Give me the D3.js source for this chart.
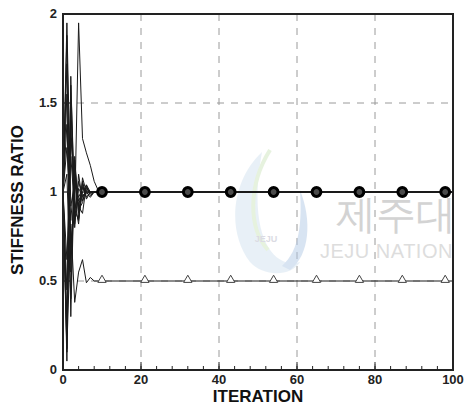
<!DOCTYPE html>
<html>
<head>
<meta charset="utf-8">
<script src="https://cdn.jsdelivr.net/npm/d3@7"></script>
<style>
  html, body { margin: 0; padding: 0; background: #fff; }
  svg { display: block; }
  text { font-family: "Liberation Sans", Arial, sans-serif; }
</style>
</head>
<body>
<svg id="chart" width="464" height="408"></svg>
<script>
// Iteration at which each value is recorded (last entry = end of run)
const iterations = [0, 1, 2, 3, 4, 5, 6, 7, 8, 9, 10, 11, 12, 100];

// Stiffness ratio histories converging to 1.0
const s01 = [1.00, 1.95, 0.92, 1.05, 0.97, 1.02, 1.00, 1.00, 1.00, 1.00, 1.00, 1.00, 1.00, 1.00];
const s02 = [1.00, 0.10, 1.50, 0.88, 1.06, 0.97, 1.01, 1.00, 1.00, 1.00, 1.00, 1.00, 1.00, 1.00];
const s03 = [1.00, 1.72, 0.55, 1.15, 0.92, 1.03, 0.99, 1.00, 1.00, 1.00, 1.00, 1.00, 1.00, 1.00];
const s04 = [1.00, 0.30, 1.40, 0.80, 1.10, 0.95, 1.02, 1.00, 1.00, 1.00, 1.00, 1.00, 1.00, 1.00];
const s05 = [1.00, 1.38, 0.72, 0.88, 1.95, 1.30, 1.22, 1.15, 1.06, 1.01, 1.00, 1.00, 1.00, 1.00];
const s06 = [1.00, 0.62, 1.20, 0.90, 0.84, 1.05, 0.96, 1.00, 1.00, 1.00, 1.00, 1.00, 1.00, 1.00];
const s07 = [1.00, 1.25, 0.84, 1.12, 0.90, 0.94, 1.03, 0.99, 1.00, 1.00, 1.00, 1.00, 1.00, 1.00];
const s08 = [1.00, 0.05, 1.65, 0.82, 1.02, 0.98, 1.00, 1.00, 1.00, 1.00, 1.00, 1.00, 1.00, 1.00];
const s09 = [1.00, 1.55, 0.30, 1.18, 0.88, 1.06, 0.97, 1.00, 1.00, 1.00, 1.00, 1.00, 1.00, 1.00];
const s10 = [1.00, 0.45, 1.60, 0.95, 0.82, 1.08, 1.00, 0.97, 1.00, 1.00, 1.00, 1.00, 1.00, 1.00];
const s11 = [1.00, 1.88, 0.65, 1.05, 0.92, 0.88, 1.04, 1.00, 1.00, 1.00, 1.00, 1.00, 1.00, 1.00];
const s12 = [1.00, 0.20, 1.30, 1.08, 0.95, 1.00, 1.00, 1.00, 1.00, 1.00, 1.00, 1.00, 1.00, 1.00];
const s13 = [1.00, 1.10, 0.40, 1.20, 0.85, 1.00, 1.04, 0.98, 1.00, 1.00, 1.00, 1.00, 1.00, 1.00];
// History converging to 0.5
const s14 = [1.00, 0.12, 0.82, 0.38, 0.55, 0.62, 0.49, 0.52, 0.50, 0.50, 0.50, 0.50, 0.50, 0.50];

const seriesList = [s01, s02, s03, s04, s05, s06, s07, s08, s09, s10, s11, s12, s13, s14];

// Symbol positions
const markerIterations = [10, 21, 32, 43, 54, 65, 76, 87, 98];
const circleValues   = [1, 1, 1, 1, 1, 1, 1, 1, 1];
const triangleValues = [0.5, 0.5, 0.5, 0.5, 0.5, 0.5, 0.5, 0.5, 0.5];

// Tick labels
const xTicks = [0, 20, 40, 60, 80, 100];
const xMinorTicks = d3.range(0, 101, 4);
const yTicks = [0, 0.5, 1, 1.5, 2];
const yTickLabels = ["0", "0.5", "1", "1.5", "2"];

const svg = d3.select("#chart");
const plotLeft = 63, plotRight = 453, plotTop = 14, plotBottom = 370;

const x = d3.scaleLinear().domain([0, 100]).range([plotLeft, plotRight]);
const y = d3.scaleLinear().domain([0, 2]).range([plotBottom, plotTop]);

// Grid
const grid = svg.append("g").attr("stroke", "#9a9a9a").attr("stroke-width", 1)
  .attr("stroke-dasharray", "7,7");
grid.selectAll("line.vx").data([20, 40, 60, 80]).join("line")
  .attr("x1", d => x(d)).attr("x2", d => x(d)).attr("y1", plotTop).attr("y2", plotBottom);
grid.selectAll("line.hy").data([0.5, 1, 1.5]).join("line")
  .attr("x1", plotLeft).attr("x2", plotRight).attr("y1", d => y(d)).attr("y2", d => y(d));

// Faint background emblem and lettering
const wm = svg.append("g").attr("opacity", 0.5);
wm.append("path")
  .attr("d", "M262,152 C232,180 226,230 250,262 C262,276 290,278 300,262 C276,270 246,240 262,152 Z")
  .attr("fill", "#d3e3f0");
wm.append("path")
  .attr("d", "M270,150 C248,185 248,228 268,250")
  .attr("fill", "none").attr("stroke", "#cfe6bf").attr("stroke-width", 4);
wm.append("path")
  .attr("d", "M300,190 C312,220 310,255 290,270 L282,266 C300,250 302,222 300,190 Z")
  .attr("fill", "#b3cae6");
wm.append("text").attr("x", 266).attr("y", 242).attr("text-anchor", "middle")
  .attr("font-size", 9).attr("font-weight", "bold").attr("fill", "#b8b8c8").text("JEJU");
wm.append("text").attr("x", 336).attr("y", 228)
  .attr("font-family", "'Noto Sans CJK KR', sans-serif")
  .attr("font-size", 40).attr("fill", "#a8a8a8").text("제주대");
wm.append("text").attr("x", 320).attr("y", 258)
  .attr("font-size", 20).attr("fill", "#bdbdbd").attr("letter-spacing", 0.5)
  .text("JEJU NATION");

// Curves
const line = d3.line().x((d, i) => x(iterations[i])).y(d => y(d));
svg.append("g").attr("fill", "none").attr("stroke", "#1a1a1a").attr("stroke-width", 1)
  .attr("stroke-linejoin", "round")
  .selectAll("path").data(seriesList).join("path")
  .attr("d", d => line(d));

// Triangle markers on the 0.5 history
const tri = d3.symbol().type(d3.symbolTriangle).size(30);
svg.append("g").selectAll("path").data(markerIterations).join("path")
  .attr("transform", (d, i) => `translate(${x(d)},${y(triangleValues[i]) - 1})`)
  .attr("d", tri()).attr("fill", "#fff").attr("stroke", "#444").attr("stroke-width", 1);

// Circle markers on the 1.0 histories
const circ = svg.append("g").selectAll("g").data(markerIterations).join("g")
  .attr("transform", (d, i) => `translate(${x(d)},${y(circleValues[i])})`);
circ.append("circle").attr("r", 4.4).attr("fill", "#4a4a4a").attr("stroke", "#000").attr("stroke-width", 3);

// Frame
svg.append("rect").attr("x", plotLeft).attr("y", plotTop)
  .attr("width", plotRight - plotLeft).attr("height", plotBottom - plotTop)
  .attr("fill", "none").attr("stroke", "#222").attr("stroke-width", 2);

// Ticks
const ticks = svg.append("g").attr("stroke", "#222").attr("stroke-width", 1);
ticks.selectAll("line.mn").data(xMinorTicks).join("line").attr("class", "mn")
  .attr("x1", d => x(d)).attr("x2", d => x(d)).attr("y1", plotBottom).attr("y2", plotBottom - 4);
ticks.selectAll("line.mj").data(xTicks).join("line").attr("class", "mj")
  .attr("x1", d => x(d)).attr("x2", d => x(d)).attr("y1", plotBottom).attr("y2", plotBottom - 8);
ticks.selectAll("line.yt").data(yTicks).join("line").attr("class", "yt")
  .attr("x1", plotLeft).attr("x2", plotLeft + 7).attr("y1", d => y(d)).attr("y2", d => y(d));

// Tick labels
svg.append("g").selectAll("text").data(xTicks).join("text")
  .attr("x", d => x(d)).attr("y", plotBottom + 14).attr("text-anchor", "middle")
  .attr("font-size", 13).attr("font-weight", "bold").attr("fill", "#222")
  .text(d => d);
svg.append("g").selectAll("text").data(yTicks).join("text")
  .attr("x", plotLeft - 6).attr("y", d => y(d) + 4).attr("text-anchor", "end")
  .attr("font-size", 13).attr("font-weight", "bold").attr("fill", "#222")
  .text((d, i) => yTickLabels[i]);

// Axis titles
svg.append("text").attr("x", (plotLeft + plotRight) / 2).attr("y", 402).attr("text-anchor", "middle")
  .attr("font-size", 17).attr("font-weight", "bold").attr("fill", "#111").text("ITERATION");
svg.append("text").attr("transform", "translate(23,200) rotate(-90)").attr("text-anchor", "middle")
  .attr("font-size", 17).attr("font-weight", "bold").attr("fill", "#111").text("STIFFNESS RATIO");
</script>
</body>
</html>
